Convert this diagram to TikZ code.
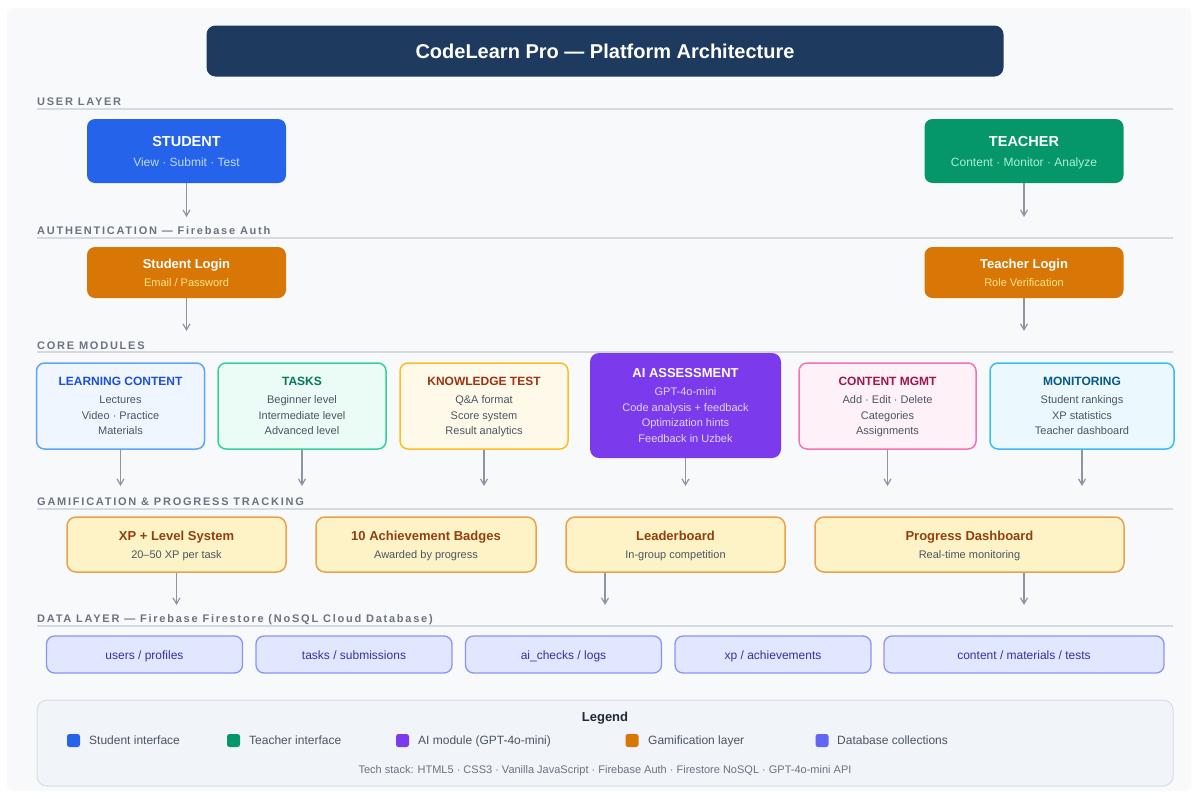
\documentclass[tikz,border=0pt]{standalone}
\usepackage{fontspec}
\setmainfont{Liberation Sans}
\newfontfamily\spacedfont[LetterSpace=16]{Liberation Sans}
\usepackage{tikz}
\usetikzlibrary{arrows.meta}
\usepackage{xcolor}
\definecolor{pagebg}{HTML}{F8F9FB}
\definecolor{navy}{HTML}{1E3A5F}
\definecolor{layergray}{HTML}{6B7280}
\definecolor{rulegray}{HTML}{D5D9E0}
\definecolor{arrgray}{HTML}{8D95A3}
\definecolor{bodygray}{HTML}{4B5563}
\definecolor{studentblue}{HTML}{2563EB}
\definecolor{studentsub}{HTML}{BFDBFE}
\definecolor{teachergreen}{HTML}{059669}
\definecolor{teachersub}{HTML}{A7F3D0}
\definecolor{authorange}{HTML}{D97706}
\definecolor{authsub}{HTML}{FDE68A}
\definecolor{lcborder}{HTML}{60A5FA}
\definecolor{lctitle}{HTML}{1D4ED8}
\definecolor{taskborder}{HTML}{34D399}
\definecolor{tasktitle}{HTML}{047857}
\definecolor{testborder}{HTML}{FBBF24}
\definecolor{testtitle}{HTML}{9A3412}
\definecolor{aipurple}{HTML}{7C3AED}
\definecolor{aisub}{HTML}{DDD6FE}
\definecolor{cmborder}{HTML}{F472B6}
\definecolor{cmtitle}{HTML}{9D174D}
\definecolor{monborder}{HTML}{38BDF8}
\definecolor{montitle}{HTML}{075985}
\definecolor{gamefill}{HTML}{FEF3C7}
\definecolor{gameborder}{HTML}{E9A24A}
\definecolor{gametitle}{HTML}{92400E}
\definecolor{collfill}{HTML}{E0E7FF}
\definecolor{collborder}{HTML}{8B93F5}
\definecolor{colltext}{HTML}{3730A3}
\definecolor{dbindigo}{HTML}{6366F1}
\definecolor{legendfill}{HTML}{F1F4F8}
\definecolor{legendborder}{HTML}{D6DDE8}
\definecolor{legendtitle}{HTML}{1F2937}
\definecolor{techgray}{HTML}{6B7280}
\newcommand{\modtitle}[2]{{\color{#1}\bfseries\fontsize{12}{14}\selectfont #2}}
\newcommand{\boxhead}[1]{{\bfseries\fontsize{13}{15}\selectfont #1}}

\begin{document}
\begin{tikzpicture}[
    x=1pt, y=-1pt,
    layer/.style={anchor=base west, inner sep=0pt, text=layergray,
                  font=\spacedfont\bfseries\fontsize{11}{13}\selectfont},
    sep/.style={draw=rulegray, line width=1.3pt},
    role/.style={rectangle, rounded corners=8pt, fill=#1, minimum width=199pt,
                 minimum height=64pt, inner sep=0pt, align=center, text=white, text depth=0pt,
                 font=\fontsize{12}{20}\selectfont},
    login/.style={role=authorange, minimum height=51pt, font=\fontsize{11}{18}\selectfont},
    module/.style={rectangle, rounded corners=8pt, draw=#1, fill=#1!10, line width=1.5pt,
                   minimum width=168pt, minimum height=86pt, inner sep=0pt, align=center,
                   text=bodygray, text depth=0pt, font=\fontsize{11}{15.5}\selectfont},
    game/.style={rectangle, rounded corners=9pt, draw=gameborder, fill=gamefill,
                 line width=1.5pt, minimum height=55pt, inner sep=0pt, align=center,
                 text=bodygray, text depth=0pt, font=\fontsize{11}{18}\selectfont},
    coll/.style={rectangle, rounded corners=8pt, draw=collborder, fill=collfill,
                 line width=1.3pt, minimum height=37pt, inner sep=0pt, text=colltext,
                 text height=10pt, text depth=1pt, font=\fontsize{12}{14}\selectfont},
    swatch/.style={rectangle, rounded corners=2.5pt, fill=#1, minimum size=13pt, inner sep=0pt},
    key/.style={anchor=west, inner sep=0pt, text=bodygray, text height=9pt, text depth=2.5pt,
                font=\fontsize{12}{14}\selectfont},
    arr/.style={-{Straight Barb[length=6pt, width=7pt]}, draw=arrgray, line width=1.2pt},
]
    \useasboundingbox (0,0) rectangle (1198,798);
    \fill[white] (0,0) rectangle (1198,798);
    \fill[pagebg, rounded corners=6pt] (7,8) rectangle (1191,791);

    % header
    \node[rectangle, rounded corners=9pt, fill=navy, minimum width=797pt, minimum height=51pt,
          text=white, font=\bfseries\fontsize{20}{24}\selectfont] (title) at (605,51)
          {CodeLearn Pro — Platform Architecture};

    % user layer
    \node[layer] (userlab) at (37,105) {USER LAYER};
    \draw[sep] (37,109) -- (1173,109);
    \node[role=studentblue] (student) at (186.5,151)
        {{\bfseries\fontsize{14.5}{17}\selectfont STUDENT}\\{\color{studentsub}View · Submit · Test}};
    \node[role=teachergreen] (teacher) at (1024,151)
        {{\bfseries\fontsize{14.5}{17}\selectfont TEACHER}\\{\color{teachersub}Content · Monitor · Analyze}};

    % authentication
    \node[layer] (authlab) at (37,234) {AUTHENTICATION — Firebase Auth};
    \draw[sep] (37,238) -- (1173,238);
    \node[login] (slogin) at (186.5,272.5) {\boxhead{Student Login}\\{\color{authsub}Email / Password}};
    \node[login] (tlogin) at (1024,272.5) {\boxhead{Teacher Login}\\{\color{authsub}Role Verification}};

    \coordinate (authin) at (0,217);
    \coordinate (corein) at (0,331);
    \draw[arr] (student) -- (student |- authin);
    \draw[arr] (teacher) -- (teacher |- authin);
    \draw[arr] (slogin) -- (slogin |- corein);
    \draw[arr] (tlogin) -- (tlogin |- corein);

    % core modules
    \node[layer] (corelab) at (37,349) {CORE MODULES};
    \draw[sep] (37,352) -- (1173,352);
    \node[module=lcborder] (learn) at (120.5,406)
        {\modtitle{lctitle}{LEARNING CONTENT}\\[2.5pt]Lectures\\Video · Practice\\Materials};
    \node[module=taskborder] (tasks) at (302,406)
        {\modtitle{tasktitle}{TASKS}\\[2.5pt]Beginner level\\Intermediate level\\Advanced level};
    \node[module=testborder] (test) at (484,406)
        {\modtitle{testtitle}{KNOWLEDGE TEST}\\[2.5pt]Q\&A format\\Score system\\Result analytics};
    \node[rectangle, rounded corners=9pt, fill=aipurple, minimum width=191pt, minimum height=105pt,
          inner sep=0pt, align=center, text=aisub, text depth=0pt,
          font=\fontsize{11}{15.6}\selectfont] (ai) at (685.5,405.5)
        {{\color{white}\boxhead{AI ASSESSMENT}}\\[2.4pt]GPT-4o-mini\\Code analysis + feedback\\Optimization hints\\Feedback in Uzbek};
    \node[module=cmborder, minimum width=177pt] (cmgmt) at (887.5,406)
        {\modtitle{cmtitle}{CONTENT MGMT}\\[2.5pt]Add · Edit · Delete\\Categories\\Assignments};
    \node[module=monborder, minimum width=184pt] (monitor) at (1082,406)
        {\modtitle{montitle}{MONITORING}\\[2.5pt]Student rankings\\XP statistics\\Teacher dashboard};

    \coordinate (gamein) at (0,486);
    \draw[arr] (learn) -- (learn |- gamein);
    \draw[arr] (tasks) -- (tasks |- gamein);
    \draw[arr] (test) -- (test |- gamein);
    \draw[arr] (ai) -- (ai |- gamein);
    \draw[arr] (cmgmt) -- (cmgmt |- gamein);
    \draw[arr] (monitor) -- (monitor |- gamein);

    % gamification
    \node[layer] (gamelab) at (37,505) {GAMIFICATION \& PROGRESS TRACKING};
    \draw[sep] (37,509) -- (1173,509);
    \node[game, minimum width=219pt] (xp) at (176.5,544.5)
        {{\color{gametitle}\boxhead{XP + Level System}}\\20–50 XP per task};
    \node[game, minimum width=220pt] (badges) at (426,544.5)
        {{\color{gametitle}\boxhead{10 Achievement Badges}}\\Awarded by progress};
    \node[game, minimum width=219pt] (lead) at (675.5,544.5)
        {{\color{gametitle}\boxhead{Leaderboard}}\\In-group competition};
    \node[game, minimum width=309pt] (prog) at (969.5,544.5)
        {{\color{gametitle}\boxhead{Progress Dashboard}}\\Real-time monitoring};

    \coordinate (datain) at (0,605);
    \draw[arr] (xp) -- (xp |- datain);
    \draw[arr] (lead.south -| title) -- (title |- datain);
    \draw[arr] (prog.south -| teacher) -- (teacher |- datain);

    % data layer
    \node[layer] (datalab) at (37,622) {DATA LAYER — Firebase Firestore (NoSQL Cloud Database)};
    \draw[sep] (37,626) -- (1173,626);
    \node[coll, minimum width=196pt] (users) at (144.5,654.5) {users / profiles};
    \node[coll, minimum width=196pt] (subs) at (354,654.5) {tasks / submissions};
    \node[coll, minimum width=196pt] (aichecks) at (563.5,654.5) {ai\_checks / logs};
    \node[coll, minimum width=196pt] (xpdb) at (773,654.5) {xp / achievements};
    \node[coll, minimum width=280pt] (content) at (1024,654.5) {content / materials / tests};

    % legend
    \draw[legendborder, fill=legendfill, rounded corners=10pt, line width=1pt] (37,700) rectangle (1173,786);
    \node[text=legendtitle, font=\bfseries\fontsize{13}{15}\selectfont] (legend) at (605,718) {Legend};
    \node[swatch=studentblue] (sw1) at (73.5,740.5) {};
    \node[key] (k1) at (89,741) {Student interface};
    \node[swatch=teachergreen] (sw2) at (233.5,740.5) {};
    \node[key] (k2) at (249,741) {Teacher interface};
    \node[swatch=aipurple] (sw3) at (402.5,740.5) {};
    \node[key] (k3) at (418,741) {AI module (GPT-4o-mini)};
    \node[swatch=authorange] (sw4) at (632,740.5) {};
    \node[key] (k4) at (648,741) {Gamification layer};
    \node[swatch=dbindigo] (sw5) at (822,740.5) {};
    \node[key] (k5) at (837,741) {Database collections};
    \node[text=techgray, font=\fontsize{11}{13}\selectfont] (stack) at (605,771)
        {Tech stack: HTML5 · CSS3 · Vanilla JavaScript · Firebase Auth · Firestore NoSQL · GPT-4o-mini API};
\end{tikzpicture}
\end{document}
